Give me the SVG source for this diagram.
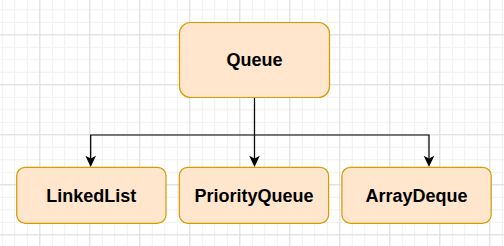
<svg xmlns="http://www.w3.org/2000/svg" width="504" height="246" viewBox="0 0 504 246">
  <defs>
    <pattern id="minor" x="1.8" y="9.3" width="12.5" height="12.5" patternUnits="userSpaceOnUse">
      <path d="M0.5 0V12.5M0 0.5H12.5" fill="none" stroke="#f0f0f0" stroke-width="1"/>
    </pattern>
    <pattern id="major" x="39.3" y="34.3" width="50" height="50" patternUnits="userSpaceOnUse">
      <path d="M0.5 0V50M0 0.5H50" fill="none" stroke="#dddddd" stroke-width="1"/>
    </pattern>
    <style>
      .node rect { fill: #ffe6cc; stroke: #d79b00; stroke-width: 1.24; }
      .node text { font-family: "Liberation Sans", Arial, sans-serif; font-weight: bold; font-size: 18px; fill: #000000; text-anchor: middle; }
      .edge { fill: none; stroke: #000000; stroke-width: 1.24; }
      .head { fill: #000000; }
    </style>
  </defs>
  <rect width="504" height="246" fill="#ffffff"/>
  <rect width="504" height="246" fill="url(#minor)"/>
  <rect width="504" height="246" fill="url(#major)"/>

  <g id="connectors">
    <path class="edge" d="M254.5 97.5V135H90.7V159"/>
    <path class="edge" d="M254.5 135V159"/>
    <path class="edge" d="M254.5 135H429V159"/>
    <path class="head" d="M90.7 167L85.4 155.7L90.7 158.5L96 155.7Z"/>
    <path class="head" d="M254.5 167L249.2 155.7L254.5 158.5L259.8 155.7Z"/>
    <path class="head" d="M429 167L423.7 155.7L429 158.5L434.3 155.7Z"/>
  </g>

  <g id="queue" class="node">
    <rect x="179.5" y="22.5" width="150" height="75" rx="11" ry="11"/>
    <text x="254.5" y="65.5">Queue</text>
  </g>
  <g id="linkedlist" class="node">
    <rect x="16.7" y="167.3" width="149.3" height="56" rx="8.5" ry="8.5"/>
    <text x="91.3" y="201.5">LinkedList</text>
  </g>
  <g id="priorityqueue" class="node">
    <rect x="179.3" y="167.3" width="149.3" height="56" rx="8.5" ry="8.5"/>
    <text x="254" y="201.5">PriorityQueue</text>
  </g>
  <g id="arraydeque" class="node">
    <rect x="341.9" y="167.3" width="149.3" height="56" rx="8.5" ry="8.5"/>
    <text x="416.5" y="201.5">ArrayDeque</text>
  </g>
</svg>
